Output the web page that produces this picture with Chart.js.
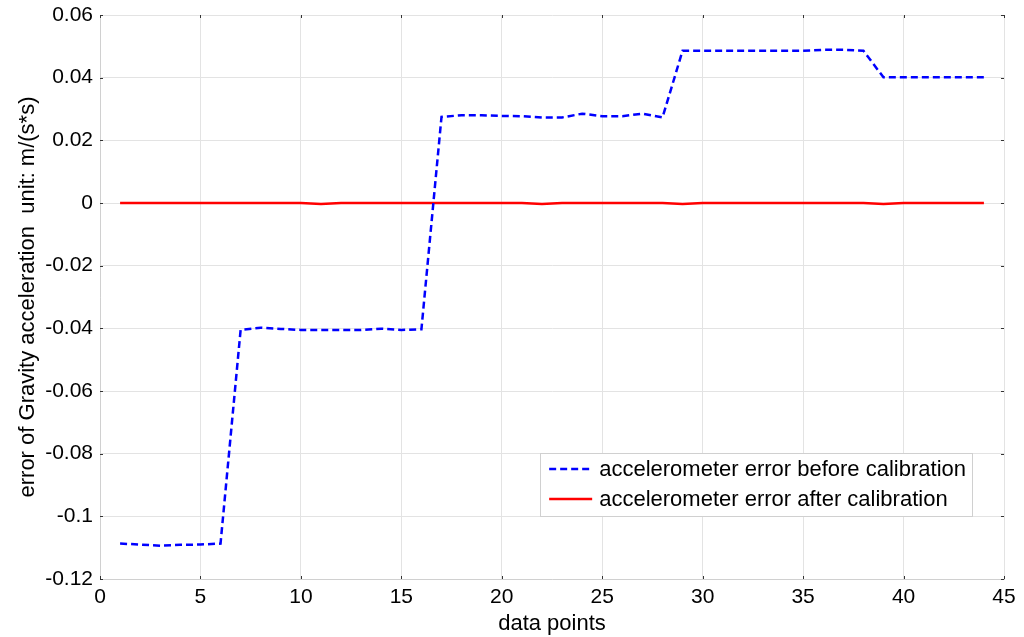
<!DOCTYPE html>
<html>
<head>
<meta charset="utf-8">
<script src="https://cdn.jsdelivr.net/npm/chart.js@4.4.1/dist/chart.umd.min.js"></script>
<style>
	html, body { margin: 0; padding: 0; background: #fff; overflow: hidden; }
	#wrap { width: 1024px; height: 660px; position: relative; }
</style>
</head>
<body>
<div id="wrap"><canvas id="errChart"></canvas></div>
<script>
// data points along the x axis
var dataPoints = [1, 2, 3, 4, 5, 6, 7, 8, 9, 10, 11, 12, 13, 14, 15, 16, 17, 18, 19, 20, 21, 22,
	23, 24, 25, 26, 27, 28, 29, 30, 31, 32, 33, 34, 35, 36, 37, 38, 39, 40, 41, 42, 43, 44];

// error before calibration (m/(s*s))
var errorBefore = [-0.1087, -0.1090, -0.1094, -0.1091, -0.1090, -0.1087, -0.0405, -0.0398, -0.0402, -0.0405,
	-0.0405, -0.0405, -0.0405, -0.0401, -0.0405, -0.0403, 0.0275, 0.0280, 0.0280, 0.0278, 0.0277, 0.0273,
	0.0273, 0.0285, 0.0277, 0.0277, 0.0285, 0.0273, 0.0486, 0.0486, 0.0486, 0.0486, 0.0486, 0.0486,
	0.0486, 0.0489, 0.0489, 0.0486, 0.0401, 0.0401, 0.0401, 0.0401, 0.0401, 0.0401];

// error after calibration (m/(s*s))
var errorAfter = [0, 0, 0, 0, 0, 0, 0, 0, 0, 0, -0.0003, 0, 0, 0, 0, 0, 0, 0, 0, 0, 0, -0.0003,
	0, 0, 0, 0, 0, 0, -0.0003, 0, 0, 0, 0, 0, 0, 0, 0, 0, -0.0003, 0, 0, 0, 0, 0];

var xTicks = [0, 5, 10, 15, 20, 25, 30, 35, 40, 45];
var yTicks = [-0.12, -0.1, -0.08, -0.06, -0.04, -0.02, 0, 0.02, 0.04, 0.06];

var seriesLabels = ["accelerometer error before calibration", "accelerometer error after calibration"];

function toXY(ys) {
	return dataPoints.map(function (x, i) { return { x: x, y: ys[i] }; });
}

var FONT = "Arial, 'Liberation Sans', sans-serif";

/* small inward tick marks on all four sides, like matlab */
var boxTicks = {
	id: 'boxTicks',
	afterDatasetsDraw: function (chart) {
		var ctx = chart.ctx, a = chart.chartArea;
		var xs = chart.scales.x, ys = chart.scales.y;
		ctx.save();
		ctx.strokeStyle = '#333';
		ctx.lineWidth = 1;
		ctx.beginPath();
		xTicks.forEach(function (t) {
			var px = Math.round(xs.getPixelForValue(t)) + 0.5;
			ctx.moveTo(px, a.bottom); ctx.lineTo(px, a.bottom - 3);
			ctx.moveTo(px, a.top); ctx.lineTo(px, a.top + 3);
		});
		yTicks.forEach(function (t) {
			var py = Math.round(ys.getPixelForValue(t)) + 0.5;
			ctx.moveTo(a.left, py); ctx.lineTo(a.left + 3, py);
			ctx.moveTo(a.right, py); ctx.lineTo(a.right - 3, py);
		});
		ctx.stroke();
		ctx.restore();
	}
};

/* legend box inside the plot, lower right */
var insideLegend = {
	id: 'insideLegend',
	afterDraw: function (chart) {
		var ctx = chart.ctx, a = chart.chartArea;
		ctx.save();
		ctx.font = '22px ' + FONT;
		var textW = 0;
		chart.data.datasets.forEach(function (ds) {
			textW = Math.max(textW, ctx.measureText(ds.label).width);
		});
		var w = 9 + 43 + 7 + textW + 6;
		var h = 63;
		var right = a.right - 32;
		var bottom = a.bottom - 63;
		var left = right - w, top = bottom - h;
		ctx.fillStyle = '#fff';
		ctx.fillRect(left, top, w, h);
		ctx.strokeStyle = '#d0d0d0';
		ctx.lineWidth = 1;
		ctx.strokeRect(Math.round(left) + 0.5, Math.round(top) + 0.5, Math.round(w), h);
		chart.data.datasets.forEach(function (ds, i) {
			var cy = top + 16 + i * 30;
			ctx.beginPath();
			ctx.strokeStyle = ds.borderColor;
			ctx.lineWidth = ds.borderWidth;
			ctx.setLineDash(ds.borderDash || []);
			ctx.moveTo(left + 9, cy);
			ctx.lineTo(left + 52, cy);
			ctx.stroke();
			ctx.setLineDash([]);
			ctx.fillStyle = '#000';
			ctx.textBaseline = 'middle';
			ctx.fillText(ds.label, left + 59, cy + 1);
		});
		ctx.restore();
	}
};

new Chart(document.getElementById("errChart").getContext('2d'), {
	type: 'line',
	data: {
		datasets: [
			{
				label: seriesLabels[0],
				data: toXY(errorBefore),
				borderColor: '#0000ff',
				borderWidth: 2.5,
				borderDash: [7, 4],
				pointRadius: 0,
				tension: 0,
				fill: false
			},
			{
				label: seriesLabels[1],
				data: toXY(errorAfter),
				borderColor: '#ff0000',
				borderWidth: 2.5,
				pointRadius: 0,
				tension: 0,
				fill: false
			}
		]
	},
	options: {
		responsive: true,
		maintainAspectRatio: false,
		animation: false,
		layout: { padding: { left: 0, right: 20, top: 15, bottom: 0 } },
		plugins: {
			legend: { display: false },
			tooltip: { enabled: false }
		},
		scales: {
			x: {
				type: 'linear',
				min: 0,
				max: 45,
				afterBuildTicks: function (scale) {
					scale.ticks = xTicks.map(function (v) { return { value: v }; });
				},
				afterFit: function (scale) { scale.height = 81; },
				grid: { color: '#e3e3e3', drawTicks: false },
				border: { color: '#d0d0d0' },
				ticks: {
					padding: 6,
					color: '#000',
					font: { size: 21, family: FONT },
					maxRotation: 0,
					callback: function (v) { return String(v); }
				},
				title: {
					display: true,
					text: 'data points',
					color: '#000',
					font: { size: 22, family: FONT },
					padding: { top: 0, bottom: 23 }
				}
			},
			y: {
				type: 'linear',
				min: -0.12,
				max: 0.06,
				afterBuildTicks: function (scale) {
					scale.ticks = yTicks.map(function (v) { return { value: v }; });
				},
				afterFit: function (scale) {
					scale.width = 100;
					scale.paddingTop = 0;
					scale.paddingBottom = 0;
				},
				grid: { color: '#e3e3e3', drawTicks: false },
				border: { color: '#d0d0d0' },
				ticks: {
					padding: 7,
					color: '#000',
					font: { size: 21, family: FONT },
					callback: function (v) { return String(Number(v.toFixed(2))); }
				},
				title: {
					display: true,
					text: 'error of Gravity acceleration  unit: m/(s*s)',
					color: '#000',
					font: { size: 22, family: FONT },
					padding: { top: 15, bottom: 0 }
				}
			}
		}
	},
	plugins: [boxTicks, insideLegend]
});
</script>
</body>
</html>
